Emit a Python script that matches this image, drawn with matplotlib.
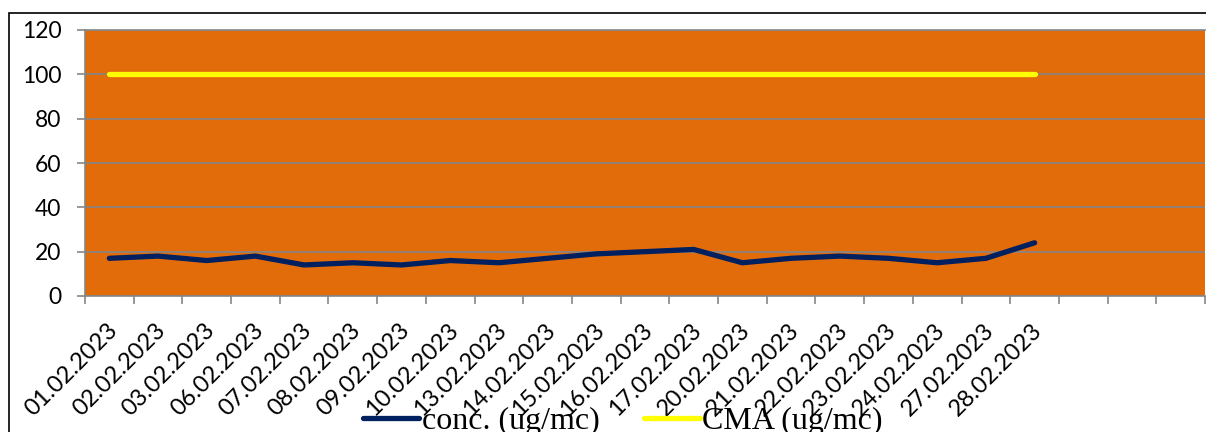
import matplotlib
matplotlib.use('Agg')
import matplotlib.pyplot as plt
import matplotlib.transforms as mtransforms
from matplotlib.patches import Rectangle

W, H = 1206, 432

dates = ['01.02.2023', '02.02.2023', '03.02.2023', '06.02.2023', '07.02.2023',
         '08.02.2023', '09.02.2023', '10.02.2023', '13.02.2023', '14.02.2023',
         '15.02.2023', '16.02.2023', '17.02.2023', '20.02.2023', '21.02.2023',
         '22.02.2023', '23.02.2023', '24.02.2023', '27.02.2023', '28.02.2023']
conc = [17, 18, 16, 18, 14, 15, 14, 16, 15, 17, 19, 20, 21, 15, 17, 18, 17, 15, 17, 24]
cma = [100] * len(dates)
N_CATEGORIES = 23
y_ticks = [0, 20, 40, 60, 80, 100, 120]

ORANGE = '#E36C0A'
NAVY = '#002060'
YELLOW = '#FFFF00'
GRID = '#868686'

fig = plt.figure(figsize=(W / 100, H / 100), dpi=100)

# outer chart frame (cropped on right and bottom)
fig.patches.append(Rectangle((9 / W, -0.1), 1.2, 1 - 13 / H + 0.1, transform=fig.transFigure,
                             fill=False, edgecolor='black', linewidth=1.2, zorder=0))

left, right, top, bottom = 85, 1205, 30, 296
ax = fig.add_axes([left / W, 1 - bottom / H, (right - left) / W, (bottom - top) / H])
ax.set_facecolor(ORANGE)

x = [i + 0.5 for i in range(len(dates))]
l1, = ax.plot(x, conc, color=NAVY, linewidth=3.8, solid_capstyle='round', solid_joinstyle='round',
              label='conc. (ug/mc)', zorder=3)
l2, = ax.plot(x, cma, color=YELLOW, linewidth=3.8, solid_capstyle='round',
              label='CMA (ug/mc)', zorder=3)

ax.set_xlim(0, N_CATEGORIES)
ax.set_ylim(0, 120)
ax.set_yticks(y_ticks)
ax.yaxis.grid(True, color=GRID, linewidth=1.2)
ax.set_axisbelow(True)

ax.set_xticks(range(N_CATEGORIES + 1))
ax.set_xticklabels([])
ax.set_xticks(x, dates, minor=True)
ax.tick_params(axis='x', which='major', length=6, width=1.2, color=GRID)
ax.tick_params(axis='x', which='minor', length=0, pad=17, labelsize=17)
ax.tick_params(axis='y', length=6, width=1.2, color=GRID, pad=11, labelsize=16.5)

for lab in ax.get_xticklabels(minor=True):
    lab.set_rotation(45)
    lab.set_ha('right')
    lab.set_va('top')
    lab.set_rotation_mode('anchor')
    lab.set_fontfamily('Lato')
    lab.set_transform(lab.get_transform() + mtransforms.ScaledTranslation(-3 / 100, 0, fig.dpi_scale_trans))
for lab in ax.get_yticklabels():
    lab.set_fontfamily('Lato')

for side in ['left', 'bottom', 'top']:
    ax.spines[side].set_color(GRID)
    ax.spines[side].set_linewidth(1.2)
ax.spines['right'].set_visible(False)

fig.legend(handles=[l1, l2], loc='center', bbox_to_anchor=(623 / W, 1 - 421 / H), ncol=2,
           frameon=False, prop={'family': 'Liberation Serif', 'size': 23},
           handlelength=1.75, handletextpad=0.08, columnspacing=1.4, borderpad=0, borderaxespad=0)

fig.savefig('out.png', dpi=100)
